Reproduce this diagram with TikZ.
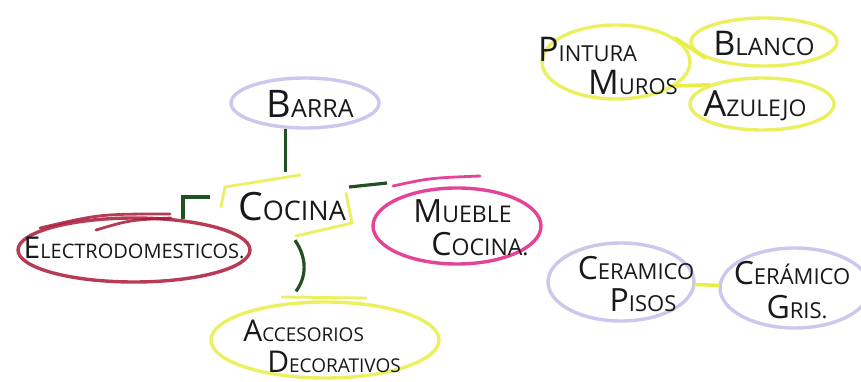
\documentclass[tikz,border=0pt]{standalone}
\usepackage{fontspec}
\setmainfont{Open Sans}
\usetikzlibrary{shapes.geometric,calc}
\definecolor{lav}{RGB}{200,188,235}
\definecolor{ylw}{RGB}{232,238,70}
\definecolor{mag}{RGB}{225,35,135}
\definecolor{crim}{RGB}{170,25,55}
\definecolor{grn}{RGB}{35,80,35}
\definecolor{ink}{RGB}{25,25,25}
\newcommand\setsz[3]{\def\hwA{#1}\fontsize{#2}{#3}\selectfont}
\newcommand\hw[2]{{\fontsize{\hwA}{\hwA}\selectfont #1}#2}
\begin{document}
\begin{tikzpicture}[x=1pt,y=-1pt,
  bub/.style={ellipse, line width=3.4pt, inner sep=0pt, draw opacity=0.85},
  txt/.style={text=ink, inner sep=0pt},
  stem/.style={draw=grn, line width=3.2pt},
  ylink/.style={draw=ylw, line width=3.5pt, line cap=round},
  hl/.style={line width=2.8pt, line cap=round, opacity=0.85}]
\useasboundingbox (0,0) rectangle (861,382);
\fill[white] (0,0) rectangle (861,382);

% ellipses
\node[bub, draw=lav, minimum width=148pt, minimum height=50pt] (barraE) at (305,103) {};
\node[bub, draw=mag, minimum width=168pt, minimum height=76pt] (muebleE) at (457,226) {};
\node[bub, draw=crim, minimum width=232pt, minimum height=64pt] (electroE) at (134,250) {};
\node[bub, draw=ylw, minimum width=228pt, minimum height=76pt] (accE) at (325,340) {};
\node[bub, draw=ylw, minimum width=148pt, minimum height=74pt] (pinturaE) at (616,62) {};
\node[bub, draw=ylw, minimum width=146pt, minimum height=48pt] (blancoE) at (764,42) {};
\node[bub, draw=ylw, minimum width=144pt, minimum height=52pt] (azulejoE) at (762,104) {};
\node[bub, draw=lav, minimum width=146pt, minimum height=78pt] (pisosE) at (621,282) {};
\node[bub, draw=lav, minimum width=150pt, minimum height=80pt] (grisE) at (795,288) {};

% extra marker strokes
\draw[hl, mag] (393,186) .. controls (430,178) .. (480,176);
\draw[hl, crim] (40,228) .. controls (100,214) .. (170,214);
\draw[hl, crim] (96,230) .. controls (130,220) .. (171,218);
\draw[hl, ylw] (282,297) -- (366,298);

% texts
\node[txt, font=\setsz{38}{25}{34}] (barra) at (310,104) {\hw{B}{ARRA}};
\node[txt, font=\setsz{39}{27}{34}, minimum width=106pt, minimum height=70pt] (cocina) at (292,207) {\hw{C}{OCINA}};
\node[txt, font=\setsz{32}{23}{33}, align=left] (mueble) at (471,228) {\hw{M}{UEBLE}\\\hspace*{18pt}\hw{C}{OCINA.}};
\node[txt, font=\setsz{30}{20}{30}] (electro) at (134,248) {\hw{E}{LECTRODOMESTICOS.}};
\node[txt, font=\setsz{30}{19}{31}, align=left] (acc) at (322,346) {\hw{A}{CCESORIOS}\\\hspace*{24pt}\hw{D}{ECORATIVOS}};
\node[txt, font=\setsz{34}{22}{33}, align=left] (pintura) at (608,66) {\hw{P}{INTURA}\\\hspace*{50pt}\hw{M}{UROS}};
\node[txt, font=\setsz{34}{24}{30}] (blanco) at (764,43) {\hw{B}{LANCO}};
\node[txt, font=\setsz{36}{23}{30}] (azulejo) at (755,106) {\hw{A}{ZULEJO}};
\node[txt, font=\setsz{32}{22}{32}, align=center] (pisos) at (636,284) {\hw{C}{ERAMICO}\\\hspace*{14pt}\hw{P}{ISOS}};
\node[txt, font=\setsz{32}{22}{34}, align=center] (gris) at (792,290) {\hw{C}{ERÁMICO}\\\hspace*{10pt}\hw{G}{RIS.}};

% yellow frame around Cocina
\draw[hl, ylw] (221,207) -- (225,187) -- (300,175);
\draw[hl, ylw] (346,193) -- (352,223) -- (296,236);

% connectors
\draw[stem] (barraE.-127) -- (barraE.-127 |- cocina.north);
\draw[stem] ($(cocina.west)+(-28,-10)$) -| (electroE.32);
\coordinate (mueStub) at (387,183);
\draw[stem] ($(cocina.east)+(3,-20)$) -- (mueStub);
\draw[stem] ($(cocina.south)+(3,-2)$) .. controls (307,258) and (307,276) .. ($(accE.north)+(-29,-9)$);
\draw[ylink] (pinturaE.22) -- (blancoE.195);
\draw[ylink] (pinturaE.-22) -- (azulejoE.160);
\draw[ylink] (pisosE) -- (grisE);
\end{tikzpicture}
\end{document}
